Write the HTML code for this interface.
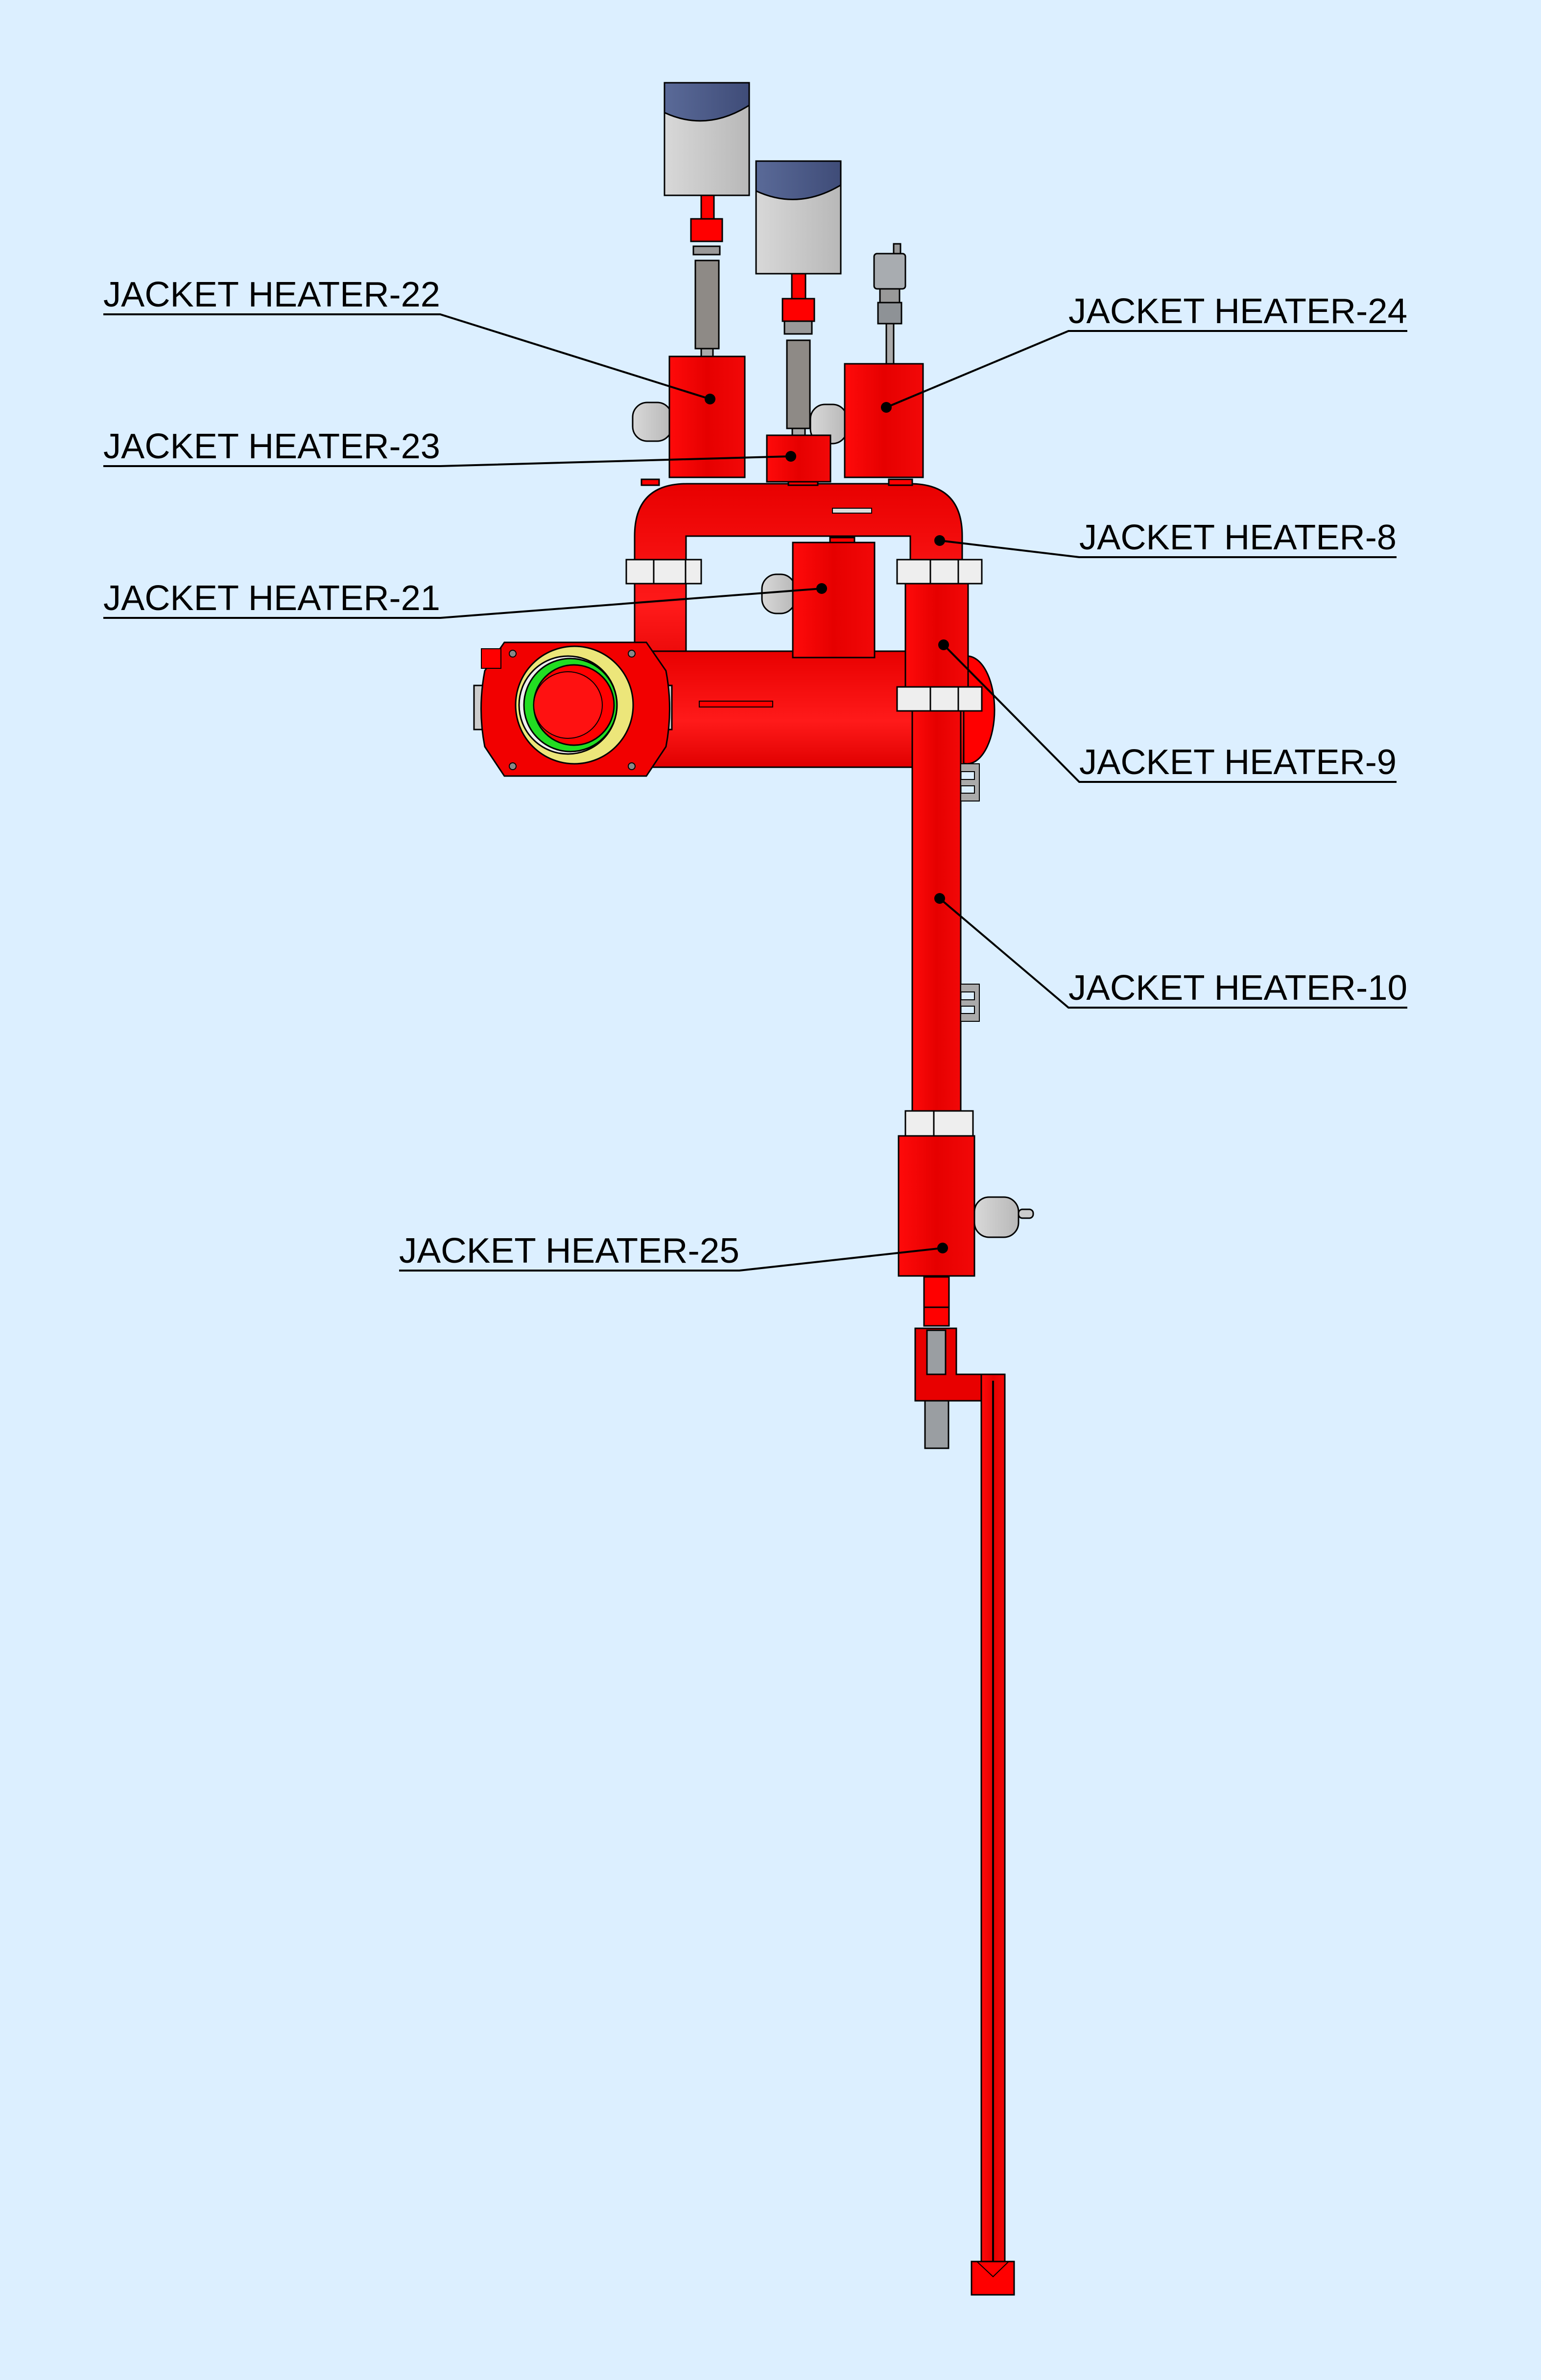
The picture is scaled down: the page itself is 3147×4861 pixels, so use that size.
<!DOCTYPE html>
<html><head><meta charset="utf-8"><style>
html,body{margin:0;padding:0;background:#dcefff;}
svg{display:block}
text{font-family:"Liberation Sans",Arial,sans-serif;font-size:72px;fill:#000}
</style></head><body>
<svg width="3147" height="4861" viewBox="0 0 3147 4861" xmlns="http://www.w3.org/2000/svg">
<defs>
<linearGradient id="r" x1="0" x2="1" y1="0" y2="0">
<stop offset="0" stop-color="#ff0a0a"/><stop offset="0.5" stop-color="#e60000"/><stop offset="1" stop-color="#f20808"/></linearGradient>
<linearGradient id="rv" x1="0" x2="0" y1="0" y2="1">
<stop offset="0" stop-color="#e80000"/><stop offset="0.6" stop-color="#ff1a1a"/><stop offset="1" stop-color="#e00000"/></linearGradient>
<linearGradient id="g" x1="0" x2="1"><stop offset="0" stop-color="#d8d8d8"/><stop offset="1" stop-color="#b8b8b8"/></linearGradient>
<linearGradient id="b" x1="0" x2="1"><stop offset="0" stop-color="#5a6a98"/><stop offset="1" stop-color="#3f4c78"/></linearGradient>
</defs>
<rect width="3147" height="4861" fill="#dcefff"/>
<g stroke="#000" stroke-width="3">
<!-- sensor 1 -->
<rect x="1357" y="169" width="173" height="230" fill="url(#g)"/>
<path d="M1357 169 H1530 V215 Q1443 270 1357 230 Z" fill="url(#b)"/>
<rect x="1432" y="399" width="26" height="48" fill="#f00"/>
<rect x="1411" y="447" width="64" height="46" fill="#f00"/>
<rect x="1416" y="503" width="54" height="17" fill="#999"/>
<rect x="1420" y="532" width="48" height="180" fill="#8e8a86"/>
<rect x="1432" y="712" width="24" height="16" fill="#aaa"/>
<!-- sensor 2 -->
<rect x="1544" y="329" width="173" height="230" fill="url(#g)"/>
<path d="M1544 329 H1717 V378 Q1630 430 1544 390 Z" fill="url(#b)"/>
<rect x="1617" y="559" width="28" height="51" fill="#f00"/>
<rect x="1598" y="610" width="65" height="46" fill="#f00"/>
<rect x="1602" y="656" width="56" height="26" fill="#999"/>
<rect x="1607" y="695" width="47" height="180" fill="#8e8a86"/>
<rect x="1618" y="875" width="26" height="14" fill="#aaa"/>
<!-- small sensor -->
<rect x="1825" y="498" width="14" height="20" fill="#999"/>
<rect x="1785" y="518" width="64" height="72" rx="6" fill="#a8acb0"/>
<rect x="1797" y="590" width="40" height="28" fill="#999"/>
<rect x="1793" y="618" width="48" height="43" fill="#8e9296"/>
<rect x="1810" y="661" width="15" height="82" fill="#aaa"/>
<!-- side grey cylinders -->
<rect x="1292" y="822" width="80" height="79" rx="30" fill="url(#g)"/>
<rect x="1655" y="826" width="75" height="80" rx="30" fill="url(#g)"/>
<rect x="1556" y="1173" width="68" height="80" rx="30" fill="url(#g)"/>
<!-- U pipe -->
<path d="M1296 1335 V1095 Q1296 988 1403 988 H1858 Q1965 988 1965 1095 V1403 H1859 V1095 H1401 V1335 Z" fill="url(#rv)"/>
<rect x="1310" y="979" width="36" height="12" fill="#f00"/>
<rect x="1610" y="979" width="60" height="12" fill="#f00"/>
<rect x="1815" y="979" width="48" height="12" fill="#f00"/>
<rect x="1700" y="1038" width="80" height="10" fill="#ddd" stroke-width="2"/>
<rect x="1695" y="1098" width="50" height="12" fill="#f00"/>
<!-- heaters top -->
<rect x="1367" y="728" width="154" height="247" fill="url(#r)"/>
<rect x="1566" y="889" width="130" height="95" fill="url(#r)"/>
<rect x="1725" y="743" width="160" height="232" fill="url(#r)"/>
<!-- main horizontal pipe -->
<ellipse cx="1975" cy="1450" rx="56" ry="110" fill="#f00"/>
<rect x="1328" y="1330" width="640" height="237" fill="url(#rv)"/>
<rect x="1428" y="1432" width="150" height="12" fill="#f00" stroke-width="2"/>
<!-- heater 21 -->
<rect x="1619" y="1108" width="167" height="235" fill="url(#r)"/>
<!-- right vertical heater section -->
<rect x="1849" y="1192" width="128" height="211" fill="url(#r)"/>
<rect x="1863" y="1452" width="99" height="817" fill="url(#r)"/>
<!-- E brackets -->
<path d="M1962 1560 H2000 V1636 H1962 V1620 H1990 V1605 H1962 V1592 H1990 V1576 H1962 Z" fill="#aaa" stroke-width="2"/>
<path d="M1962 2010 H2000 V2086 H1962 V2070 H1990 V2055 H1962 V2042 H1990 V2026 H1962 Z" fill="#aaa" stroke-width="2"/>
<!-- clamps -->
<rect x="1279" y="1143" width="153" height="49" fill="#eee"/>
<line x1="1335" y1="1143" x2="1335" y2="1192"/><line x1="1400" y1="1143" x2="1400" y2="1192"/>
<rect x="1832" y="1143" width="173" height="49" fill="#eee"/>
<line x1="1900" y1="1143" x2="1900" y2="1192"/><line x1="1957" y1="1143" x2="1957" y2="1192"/>
<rect x="1832" y="1403" width="173" height="49" fill="#eee"/>
<line x1="1900" y1="1403" x2="1900" y2="1452"/><line x1="1957" y1="1403" x2="1957" y2="1452"/>
<!-- flange -->
<rect x="968" y="1400" width="24" height="90" fill="#ccc"/>
<rect x="1348" y="1400" width="24" height="90" fill="#ccc"/>
<path d="M1030 1312 H1320 L1360 1370 Q1375 1448 1360 1525 L1320 1585 H1030 L990 1525 Q975 1448 990 1370 Z" fill="#f20000"/>
<rect x="983" y="1325" width="40" height="40" fill="#f00" stroke-width="2"/>
<circle cx="1173" cy="1440" r="120" fill="#ece67a"/>
<circle cx="1160" cy="1440" r="100" fill="#eee"/>
<circle cx="1165" cy="1440" r="95" fill="#22dd22"/>
<circle cx="1172" cy="1440" r="82" fill="#f00"/>
<ellipse cx="1160" cy="1440" rx="70" ry="68" fill="#f11" stroke-width="2"/>
<circle cx="1047" cy="1335" r="7" fill="#888" stroke-width="2"/>
<circle cx="1290" cy="1335" r="7" fill="#888" stroke-width="2"/>
<circle cx="1047" cy="1565" r="7" fill="#888" stroke-width="2"/>
<circle cx="1290" cy="1565" r="7" fill="#888" stroke-width="2"/>
<!-- lower section -->
<rect x="1849" y="2269" width="138" height="51" fill="#eee"/>
<line x1="1907" y1="2269" x2="1907" y2="2320"/>
<rect x="1990" y="2445" width="90" height="82" rx="30" fill="url(#g)"/>
<rect x="2080" y="2470" width="30" height="18" rx="8" fill="#ccc"/>
<rect x="1835" y="2320" width="155" height="286" fill="url(#r)"/>
<rect x="1887" y="2608" width="51" height="100" fill="#f00"/>
<line x1="1887" y1="2670" x2="1938" y2="2670"/>
<!-- bracket -->
<path d="M1869 2713 H1953 V2807 H2052 V2861 H1869 Z" fill="#e80000"/>
<rect x="1893" y="2717" width="38" height="90" fill="#9a9ea2"/>
<rect x="1889" y="2861" width="48" height="97" fill="#9a9ea2"/>
<!-- long rod -->
<rect x="2004" y="2807" width="48" height="1813" fill="url(#r)"/>
<line x1="2028" y1="2820" x2="2028" y2="4620" stroke-width="4"/>
<rect x="1984" y="4619" width="87" height="68" fill="#f00"/>
<path d="M1995 4619 L2028 4650 L2060 4619" fill="none" stroke-width="2"/>
</g>
<!-- leaders -->
<g stroke="#000" stroke-width="4" fill="none">
<polyline points="211,642 899,642 1450,815"/>
<polyline points="211,952 899,952 1615,932"/>
<polyline points="211,1262 899,1262 1678,1202"/>
<polyline points="2874,676 2182,676 1810,832"/>
<polyline points="2852,1138 2204,1138 1919,1104"/>
<polyline points="2852,1597 2204,1597 1927,1317"/>
<polyline points="2874,2058 2182,2058 1919,1835"/>
<polyline points="815,2595 1510,2595 1925,2549"/>
</g>
<g fill="#000">
<circle cx="1450" cy="815" r="11"/><circle cx="1615" cy="932" r="11"/><circle cx="1678" cy="1202" r="11"/>
<circle cx="1810" cy="832" r="11"/><circle cx="1919" cy="1104" r="11"/><circle cx="1927" cy="1317" r="11"/>
<circle cx="1919" cy="1835" r="11"/><circle cx="1925" cy="2549" r="11"/>
</g>
<text x="211" y="626" textLength="688" lengthAdjust="spacingAndGlyphs">JACKET HEATER-22</text>
<text x="211" y="936" textLength="688" lengthAdjust="spacingAndGlyphs">JACKET HEATER-23</text>
<text x="211" y="1246" textLength="688" lengthAdjust="spacingAndGlyphs">JACKET HEATER-21</text>
<text x="2182" y="660" textLength="692" lengthAdjust="spacingAndGlyphs">JACKET HEATER-24</text>
<text x="2204" y="1122" textLength="648" lengthAdjust="spacingAndGlyphs">JACKET HEATER-8</text>
<text x="2204" y="1581" textLength="648" lengthAdjust="spacingAndGlyphs">JACKET HEATER-9</text>
<text x="2182" y="2042" textLength="692" lengthAdjust="spacingAndGlyphs">JACKET HEATER-10</text>
<text x="815" y="2579" textLength="695" lengthAdjust="spacingAndGlyphs">JACKET HEATER-25</text>
</svg>
</body></html>
